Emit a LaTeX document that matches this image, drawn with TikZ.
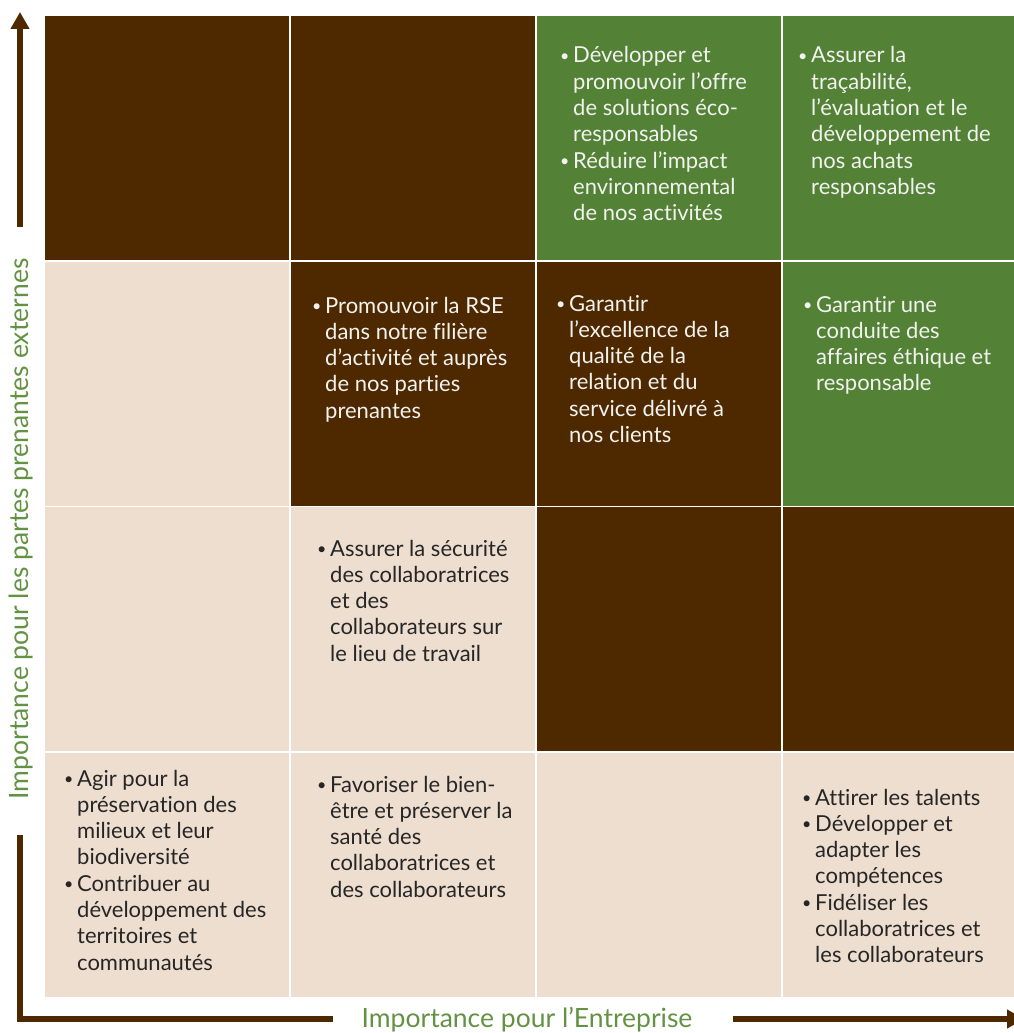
\documentclass[tikz,border=0pt]{standalone}
\usepackage{fontspec}
\setmainfont[Ligatures=NoCommon]{Lato}
\usetikzlibrary{arrows.meta,positioning}
\definecolor{cBrown}{RGB}{78,41,0}
\definecolor{cGreen}{RGB}{83,129,53}
\definecolor{cBeige}{RGB}{237,222,207}
\definecolor{cLabel}{RGB}{98,146,66}
\definecolor{cInk}{RGB}{38,38,38}
\definecolor{cPale}{RGB}{242,242,240}
\tikzset{
  cell/.style={anchor=north west,minimum width=244pt,minimum height=244pt,
    inner sep=0pt,outer sep=0pt},
  issue/.style={anchor=base west,inner sep=0pt,
    font=\fontsize{22}{26.3}\selectfont},
  axis/.style={line width=6pt,draw=cBrown},
  axislabel/.style={text=cLabel,inner sep=0pt,
    font=\fontsize{26.5}{30}\selectfont}
}
\newcommand{\Cell}[3]% pos, name, colour
{\node[cell,fill=#3] (#2) at (#1) {};
}
\newcommand{\Issue}[4]% pos, name, colour, lines
{\node[issue,text=#3] (#2) at (#1)
  {\begin{tabular}[t]{@{}p{15pt}@{}l@{}}#4\end{tabular}};
}
\newcommand{\bul}{\hspace*{2pt}\raisebox{1.5pt}{\fontsize{16}{16}\selectfont\textbullet}}

\begin{document}
\begin{tikzpicture}[x=1pt,y=-1pt]
  \useasboundingbox (0,0) rectangle (1014,1033);
  % grid
  \Cell{45,16}{c11}{cBrown}
  \Cell{291,16}{c12}{cBrown}
  \Cell{537,16}{c13}{cGreen}
  \Cell{783,16}{c14}{cGreen}
  \Cell{45,261.5}{c21}{cBeige}
  \Cell{291,261.5}{c22}{cBrown}
  \Cell{537,261.5}{c23}{cBrown}
  \Cell{783,261.5}{c24}{cGreen}
  \Cell{45,507}{c31}{cBeige}
  \Cell{291,507}{c32}{cBeige}
  \Cell{537,507}{c33}{cBrown}
  \Cell{783,507}{c34}{cBrown}
  \Cell{45,752.5}{c41}{cBeige}
  \Cell{291,752.5}{c42}{cBeige}
  \Cell{537,752.5}{c43}{cBeige}
  \Cell{783,752.5}{c44}{cBeige}
  % issues
  \Issue{558,63}{t13}{cPale}{\bul & Développer et\\ & promouvoir l’offre\\
    & de solutions éco-\\ & responsables\\ \bul & Réduire l’impact\\
    & environnemental\\ & de nos activités}
  \Issue{796,63}{t14}{cPale}{\bul & Assurer la\\ & traçabilité,\\
    & l’évaluation et le\\ & développement de\\ & nos achats\\ & responsables}
  \Issue{310,313}{t22}{cPale}{\bul & Promouvoir la RSE\\ & dans notre filière\\
    & d’activité et auprès\\ & de nos parties\\ & prenantes}
  \Issue{554,311}{t23}{cPale}{\bul & Garantir\\ & l’excellence de la\\
    & qualité de la\\ & relation et du\\ & service délivré à\\ & nos clients}
  \Issue{801,312}{t24}{cPale}{\bul & Garantir une\\ & conduite des\\
    & affaires éthique et\\ & responsable}
  \Issue{315,556}{t32}{cInk}{\bul & Assurer la sécurité\\ & des collaboratrices\\
    & et des\\ & collaborateurs sur\\ & le lieu de travail}
  \Issue{62,786}{t41}{cInk}{\bul & Agir pour la\\ & préservation des\\
    & milieux et leur\\ & biodiversité\\ \bul & Contribuer au\\
    & développement des\\ & territoires et\\ & communautés}
  \Issue{315,792}{t42}{cInk}{\bul & Favoriser le bien-\\ & être et préserver la\\
    & santé des\\ & collaboratrices et\\ & des collaborateurs}
  \Issue{800,805}{t44}{cInk}{\bul & Attirer les talents\\ \bul & Développer et\\
    & adapter les\\ & compétences\\ \bul & Fidéliser les\\
    & collaboratrices et\\ & les collaborateurs}
  % axes
  \node[axislabel,rotate=90] (ylab) at (21,529)
    {Importance pour les partes prenantes externes};
  \node[axislabel] (xlab) at (527,1020) {Importance pour l’Entreprise};
  \coordinate (ytop) at (20,12);
  \coordinate (yhi) at (20,227);
  \coordinate (ylo) at (20,835);
  \coordinate (orig) at (20,1019);
  \coordinate (xlo) at (333,1019);
  \coordinate (xhi) at (733,1019);
  \coordinate (xtip) at (1024,1019);
  \draw[axis,-{Triangle[width=18pt,length=17pt]}] (yhi) -- (ytop);
  \draw[axis,line join=miter] (ylo) -- (orig) -- (xlo);
  \draw[axis,-{Triangle[width=18pt,length=17pt]}] (xhi) -- (xtip);
\end{tikzpicture}
\end{document}
